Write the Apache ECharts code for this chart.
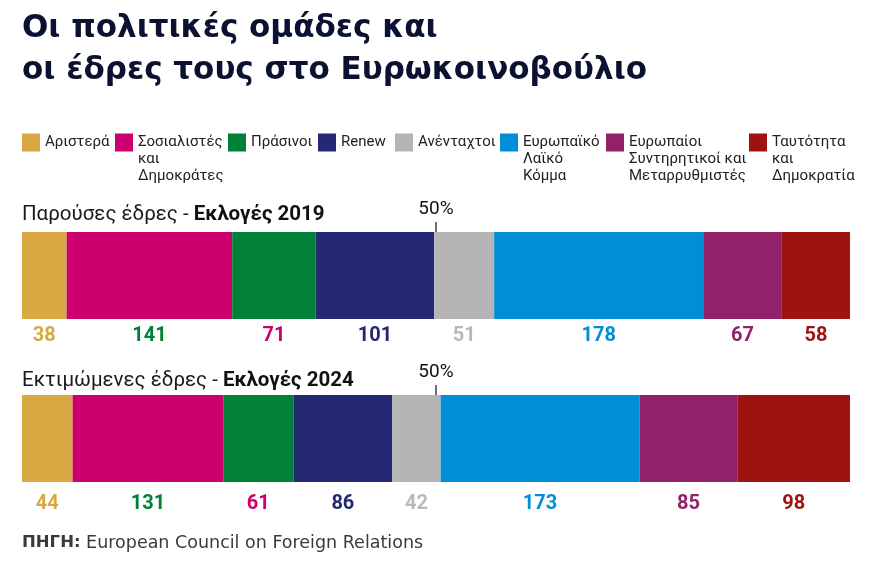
<!DOCTYPE html>
<html>
<head>
<meta charset="utf-8">
<script src="https://cdn.jsdelivr.net/npm/echarts@6/dist/echarts.min.js"></script>
<style>
  html, body { margin: 0; padding: 0; background: #fff; }
  #chart { width: 880px; height: 564px; }
</style>
</head>
<body>
<div id="chart"></div>
<script>
// parties, in the order they are stacked
const parties = ['Αριστερά', 'Σοσιαλιστές\nκαι\nΔημοκράτες', 'Πράσινοι', 'Renew', 'Ανένταχτοι', 'Ευρωπαϊκό\nΛαϊκό\nΚόμμα', 'Ευρωπαίοι\nΣυντηρητικοί και\nΜεταρρυθμιστές', 'Ταυτότητα\nκαι\nΔημοκρατία']
const seats2019 = [38, 141, 71, 101, 51, 178, 67, 58]
const seats2024 = [44, 131, 61, 86, 42, 173, 85, 98]
const barColors = ['#d9a843', '#cc006e', '#008137', '#252873', '#b5b5b5', '#008ed6', '#922169', '#9e1212']
// number colours below the bars (the original swaps green / pink)
const labelColors = ['#d9a843', '#008137', '#cc006e', '#252873', '#b9b9b9', '#008ed6', '#922169', '#9e1212']
// left edge of every legend item
const legendLeft = [22, 115, 228, 318, 395, 500, 606, 749]

const chart = echarts.init(document.getElementById('chart'))

const sum = arr => arr.reduce((a, b) => a + b, 0)
const rows = [
  { key: '2019', seats: seats2019 },
  { key: '2024', seats: seats2024 }
]

// pad legend text so the icon sits next to the first line
function legendText(name) {
  const lines = name.split('\n')
  const pad = []
  for (let i = lines.length; i < 3; i++) pad.push('')
  return ['', ''].concat(lines, pad).join('\n')
}

const series = []
rows.forEach((row, r) => {
  parties.forEach((p, i) => {
    series.push({
      name: p,
      type: 'bar',
      stack: 'seats' + row.key,
      xAxisIndex: r,
      yAxisIndex: r,
      barWidth: '100%',
      data: [row.seats[i]],
      itemStyle: { color: barColors[i] },
      label: {
        show: true,
        position: 'bottom',
        distance: r === 0 ? 7 : 12,
        color: labelColors[i],
        fontFamily: 'Roboto',
        fontWeight: 'bold',
        fontSize: 20
      }
    })
  })
  // 50% tick above the bar
  series.push({
    type: 'scatter',
    xAxisIndex: r,
    yAxisIndex: r,
    silent: true,
    data: [[sum(row.seats) / 2, 0]],
    symbol: 'rect',
    symbolSize: [1.2, 10],
    symbolOffset: [0, -48.5],
    itemStyle: { color: '#111', opacity: 1 },
    label: {
      show: true,
      position: 'top',
      distance: 3,
      formatter: '50%',
      fontFamily: 'Roboto',
      fontSize: 19,
      color: '#111'
    }
  })
})

const headingRich = {
  a: { fontFamily: 'Roboto', fontSize: 20.5, fontWeight: 'normal', color: '#1a1a1a' },
  b: { fontFamily: 'Roboto', fontSize: 20.5, fontWeight: 'bold', color: '#111' }
}

chart.setOption({
  animation: false,
  title: [{
    text: 'Οι πολιτικές ομάδες και\nοι έδρες τους στο Ευρωκοινοβούλιο',
    left: 17,
    top: 3,
    textStyle: {
      fontFamily: 'DejaVu Sans',
      fontWeight: 'bold',
      fontSize: 31,
      lineHeight: 42,
      color: '#0b1131'
    }
  }, {
    text: '{a|Παρούσες έδρες - }{b|Εκλογές 2019}',
    left: 17,
    top: 199,
    textStyle: { fontWeight: 'normal', rich: headingRich }
  }, {
    text: '{a|Εκτιμώμενες έδρες - }{b|Εκλογές 2024}',
    left: 17,
    top: 365,
    textStyle: { fontWeight: 'normal', rich: headingRich }
  }, {
    text: '{b|ΠΗΓΗ:}{a| European Council on Foreign Relations}',
    left: 17,
    top: 529,
    textStyle: {
      fontWeight: 'normal',
      rich: {
        a: { fontFamily: 'DejaVu Sans', fontSize: 17.5, fontWeight: 'normal', color: '#3a3a3a' },
        b: { fontFamily: 'DejaVu Sans', fontSize: 16.5, fontWeight: 'bold', color: '#3a3a3a' }
      }
    }
  }],
  legend: parties.map((p, i) => ({
    data: [p],
    left: legendLeft[i],
    top: 100,
    padding: 0,
    icon: 'rect',
    itemWidth: 18,
    itemHeight: 18,
    selectedMode: false,
    formatter: legendText,
    textStyle: {
      fontFamily: 'Roboto',
      fontSize: 15,
      lineHeight: 17,
      color: '#222'
    }
  })),
  grid: [
    { left: 22, right: 30, top: 232, height: 87 },
    { left: 22, right: 30, top: 395, height: 87 }
  ],
  xAxis: rows.map((row, r) => ({
    gridIndex: r,
    type: 'value',
    min: 0,
    max: sum(row.seats),
    show: false
  })),
  yAxis: rows.map((row, r) => ({
    gridIndex: r,
    type: 'category',
    data: [row.key],
    show: false
  })),
  series: series
})
</script>
</body>
</html>
